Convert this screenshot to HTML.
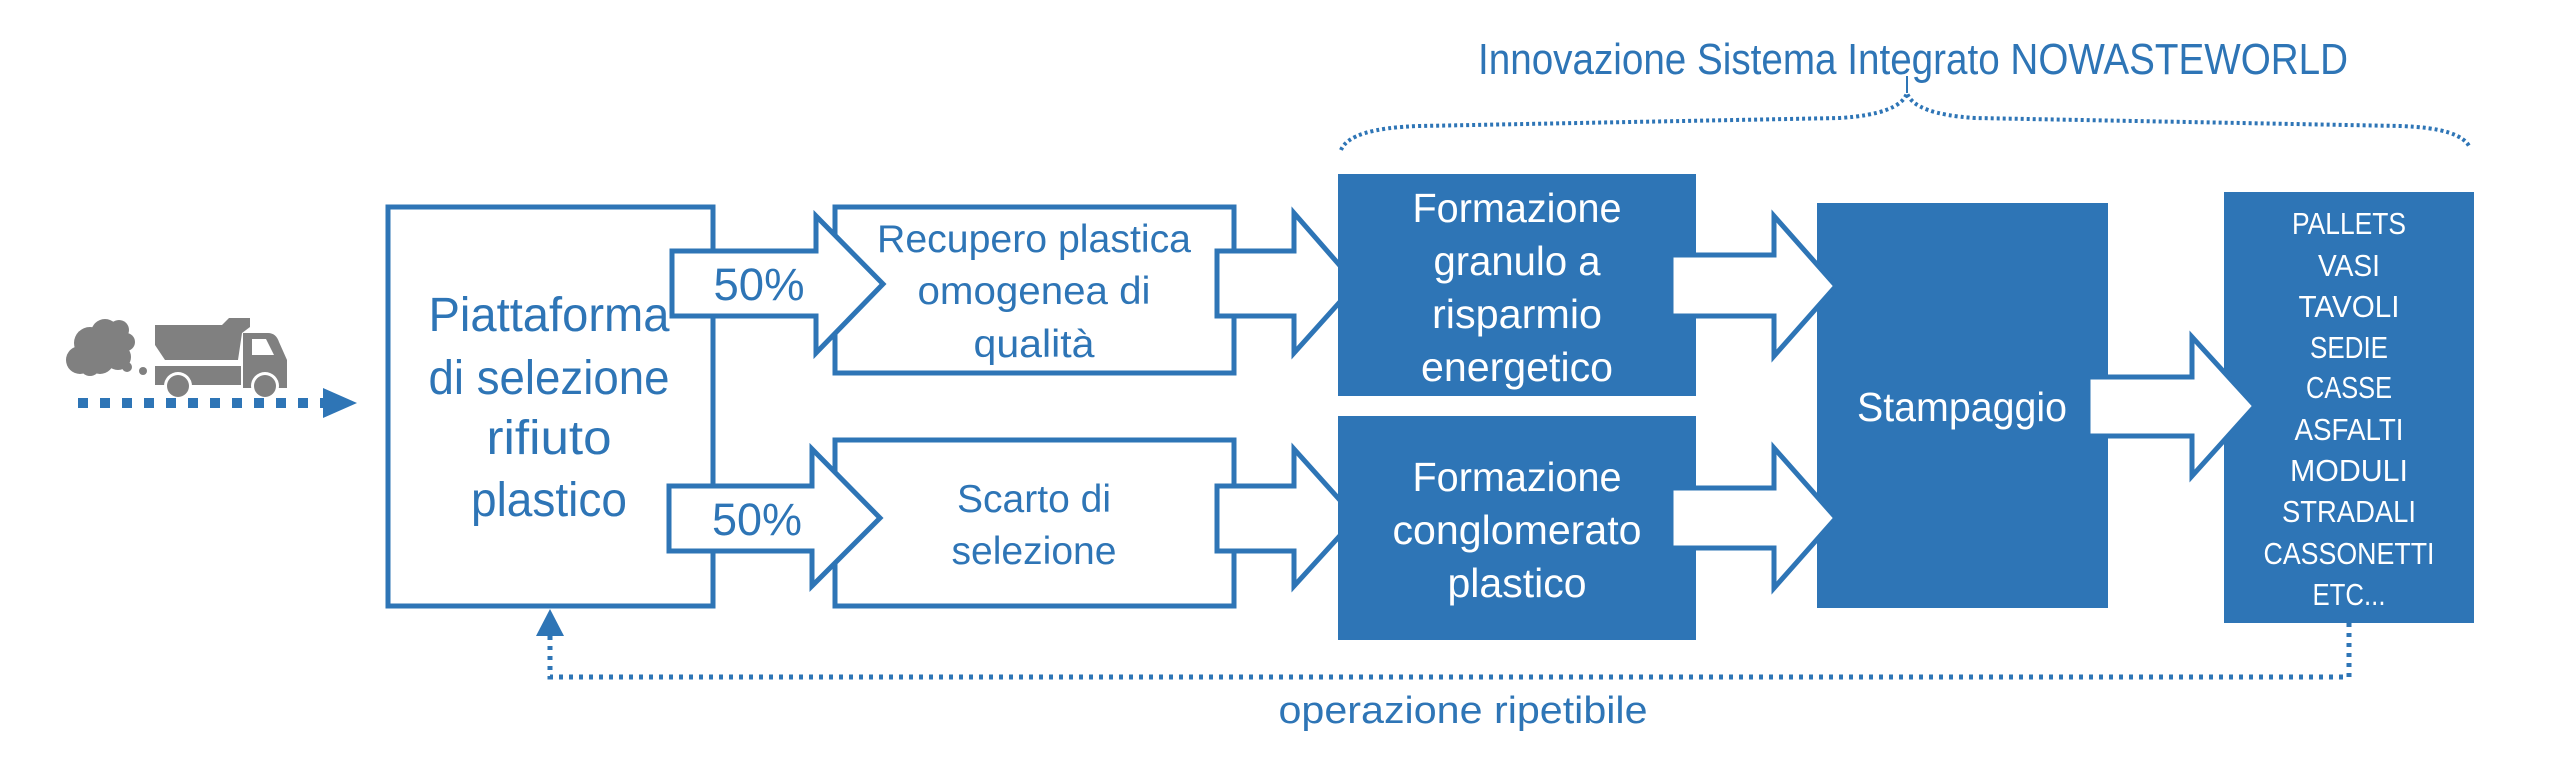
<!DOCTYPE html>
<html><head><meta charset="utf-8"><style>html,body{margin:0;padding:0;background:#fff}svg{display:block}</style></head>
<body>
<svg width="2558" height="769" viewBox="0 0 2558 769" xmlns="http://www.w3.org/2000/svg" font-family="'Liberation Sans', sans-serif">
<rect width="2558" height="769" fill="#fff"/>
<g fill="#808080">
  <circle cx="80" cy="360" r="14"/><circle cx="90" cy="343" r="16"/><circle cx="105" cy="333" r="14"/>
  <circle cx="119" cy="330" r="10"/><circle cx="126" cy="342" r="9"/><circle cx="118" cy="357" r="13"/>
  <circle cx="100" cy="360" r="14"/><circle cx="90" cy="366" r="10"/><circle cx="108" cy="350" r="14"/>
  <circle cx="127" cy="367" r="5"/><circle cx="143" cy="371" r="4"/>
  <polygon points="155,325 222,325 229,318 250,318 250,327 242,333 238,360 165,360 155,345"/>
  <rect x="155" y="366" width="86" height="19"/>
  <path d="M243,333 L268,333 Q276,333 279,342 L287,360 L287,388 L243,388 Z"/>
  <circle cx="178" cy="386" r="14" fill="#fff"/><circle cx="178" cy="386" r="11"/>
  <circle cx="265" cy="386" r="14" fill="#fff"/><circle cx="265" cy="386" r="11"/>
</g>
<path d="M252,339 L266,339 L274,355 L252,355 Z" fill="#fff"/>
<line x1="78" y1="403" x2="323" y2="403" stroke="#2E75B6" stroke-width="10" stroke-dasharray="10 12"/>
<polygon points="323,388 357,403 323,418" fill="#2E75B6"/>

<g fill="none" stroke="#2E75B6" stroke-width="5">
  <rect x="388" y="207" width="325" height="399"/>
  <rect x="835" y="207" width="399" height="166"/>
  <rect x="835" y="440" width="399" height="166"/>
</g>
<g fill="#fff" stroke="#2E75B6" stroke-width="5" stroke-linejoin="miter">
  <polygon points="672,251 816,251 816,216 883,284 816,353 816,316 672,316"/>
  <polygon points="669,486 812,486 812,449 880,518 812,586 812,551 669,551"/>
  <polygon points="1217,251 1294,251 1294,213 1356,284 1294,353 1294,316 1217,316"/>
  <polygon points="1217,486 1294,486 1294,449 1356,518 1294,586 1294,551 1217,551"/>
</g>
<g fill="#2E75B6">
  <rect x="1338" y="174" width="358" height="222"/>
  <rect x="1338" y="416" width="358" height="224"/>
  <rect x="1817" y="203" width="291" height="405"/>
  <rect x="2224" y="192" width="250" height="431"/>
</g>
<g fill="#fff" stroke="#2E75B6" stroke-width="5">
  <polygon points="1671,255 1774,255 1774,216 1836,286 1774,356 1774,316 1671,316"/>
  <polygon points="1671,488 1774,488 1774,448 1836,518 1774,588 1774,548 1671,548"/>
  <polygon points="2088,377 2192,377 2192,337 2255,406 2192,476 2192,436 2088,436"/>
</g>

<g fill="#2E75B6" text-anchor="middle" font-size="48">
  <text x="549" y="331" textLength="241" lengthAdjust="spacingAndGlyphs">Piattaforma</text>
  <text x="549" y="394" textLength="241" lengthAdjust="spacingAndGlyphs">di selezione</text>
  <text x="549" y="454" textLength="125" lengthAdjust="spacingAndGlyphs">rifiuto</text>
  <text x="549" y="516" textLength="156" lengthAdjust="spacingAndGlyphs">plastico</text>
  <text x="759" y="300" font-size="45" textLength="91" lengthAdjust="spacingAndGlyphs">50%</text>
  <text x="757" y="535" font-size="45" textLength="90" lengthAdjust="spacingAndGlyphs">50%</text>
</g>
<g fill="#2E75B6" text-anchor="middle" font-size="39">
  <text x="1034" y="252" textLength="314" lengthAdjust="spacingAndGlyphs">Recupero plastica</text>
  <text x="1034" y="304" textLength="233" lengthAdjust="spacingAndGlyphs">omogenea di</text>
  <text x="1034" y="357" textLength="121" lengthAdjust="spacingAndGlyphs">qualità</text>
  <text x="1034" y="512" textLength="154" lengthAdjust="spacingAndGlyphs">Scarto di</text>
  <text x="1034" y="564" textLength="165" lengthAdjust="spacingAndGlyphs">selezione</text>
</g>
<g fill="#fff" text-anchor="middle" font-size="41">
  <text x="1517" y="222" textLength="209" lengthAdjust="spacingAndGlyphs">Formazione</text>
  <text x="1517" y="275" textLength="167" lengthAdjust="spacingAndGlyphs">granulo a</text>
  <text x="1517" y="328" textLength="170" lengthAdjust="spacingAndGlyphs">risparmio</text>
  <text x="1517" y="381" textLength="192" lengthAdjust="spacingAndGlyphs">energetico</text>
  <text x="1517" y="491" textLength="209" lengthAdjust="spacingAndGlyphs">Formazione</text>
  <text x="1517" y="544" textLength="249" lengthAdjust="spacingAndGlyphs">conglomerato</text>
  <text x="1517" y="597" textLength="139" lengthAdjust="spacingAndGlyphs">plastico</text>
  <text x="1962" y="421" textLength="210" lengthAdjust="spacingAndGlyphs">Stampaggio</text>
</g>
<g fill="#fff" text-anchor="middle" font-size="31">
  <text x="2349" y="234" textLength="114" lengthAdjust="spacingAndGlyphs">PALLETS</text>
  <text x="2349" y="276" textLength="62" lengthAdjust="spacingAndGlyphs">VASI</text>
  <text x="2349" y="317" textLength="101" lengthAdjust="spacingAndGlyphs">TAVOLI</text>
  <text x="2349" y="358" textLength="78" lengthAdjust="spacingAndGlyphs">SEDIE</text>
  <text x="2349" y="398" textLength="86" lengthAdjust="spacingAndGlyphs">CASSE</text>
  <text x="2349" y="440" textLength="109" lengthAdjust="spacingAndGlyphs">ASFALTI</text>
  <text x="2349" y="481" textLength="118" lengthAdjust="spacingAndGlyphs">MODULI</text>
  <text x="2349" y="522" textLength="134" lengthAdjust="spacingAndGlyphs">STRADALI</text>
  <text x="2349" y="564" textLength="171" lengthAdjust="spacingAndGlyphs">CASSONETTI</text>
  <text x="2349" y="605" textLength="73" lengthAdjust="spacingAndGlyphs">ETC...</text>
</g>

<text x="1913" y="74" fill="#2E75B6" font-size="44" text-anchor="middle" textLength="870" lengthAdjust="spacingAndGlyphs">Innovazione Sistema Integrato NOWASTEWORLD</text>
<path d="M1341,150 Q1350,128 1420,126 L1840,118 Q1900,114 1907,93 Q1914,114 1975,118 L2400,126 Q2462,128 2470,148" fill="none" stroke="#2E75B6" stroke-width="4" stroke-dasharray="3 3"/>
<line x1="1907" y1="76" x2="1907" y2="93" stroke="#2E75B6" stroke-width="2"/>

<path d="M2349,623 L2349,677 L550,677 L550,633" fill="none" stroke="#2E75B6" stroke-width="5" stroke-dasharray="4 6"/>
<polygon points="550,609 564,636 536,636" fill="#2E75B6"/>
<text x="1463" y="723" fill="#2E75B6" font-size="38" text-anchor="middle" textLength="369" lengthAdjust="spacingAndGlyphs">operazione ripetibile</text>
</svg>
</body></html>
